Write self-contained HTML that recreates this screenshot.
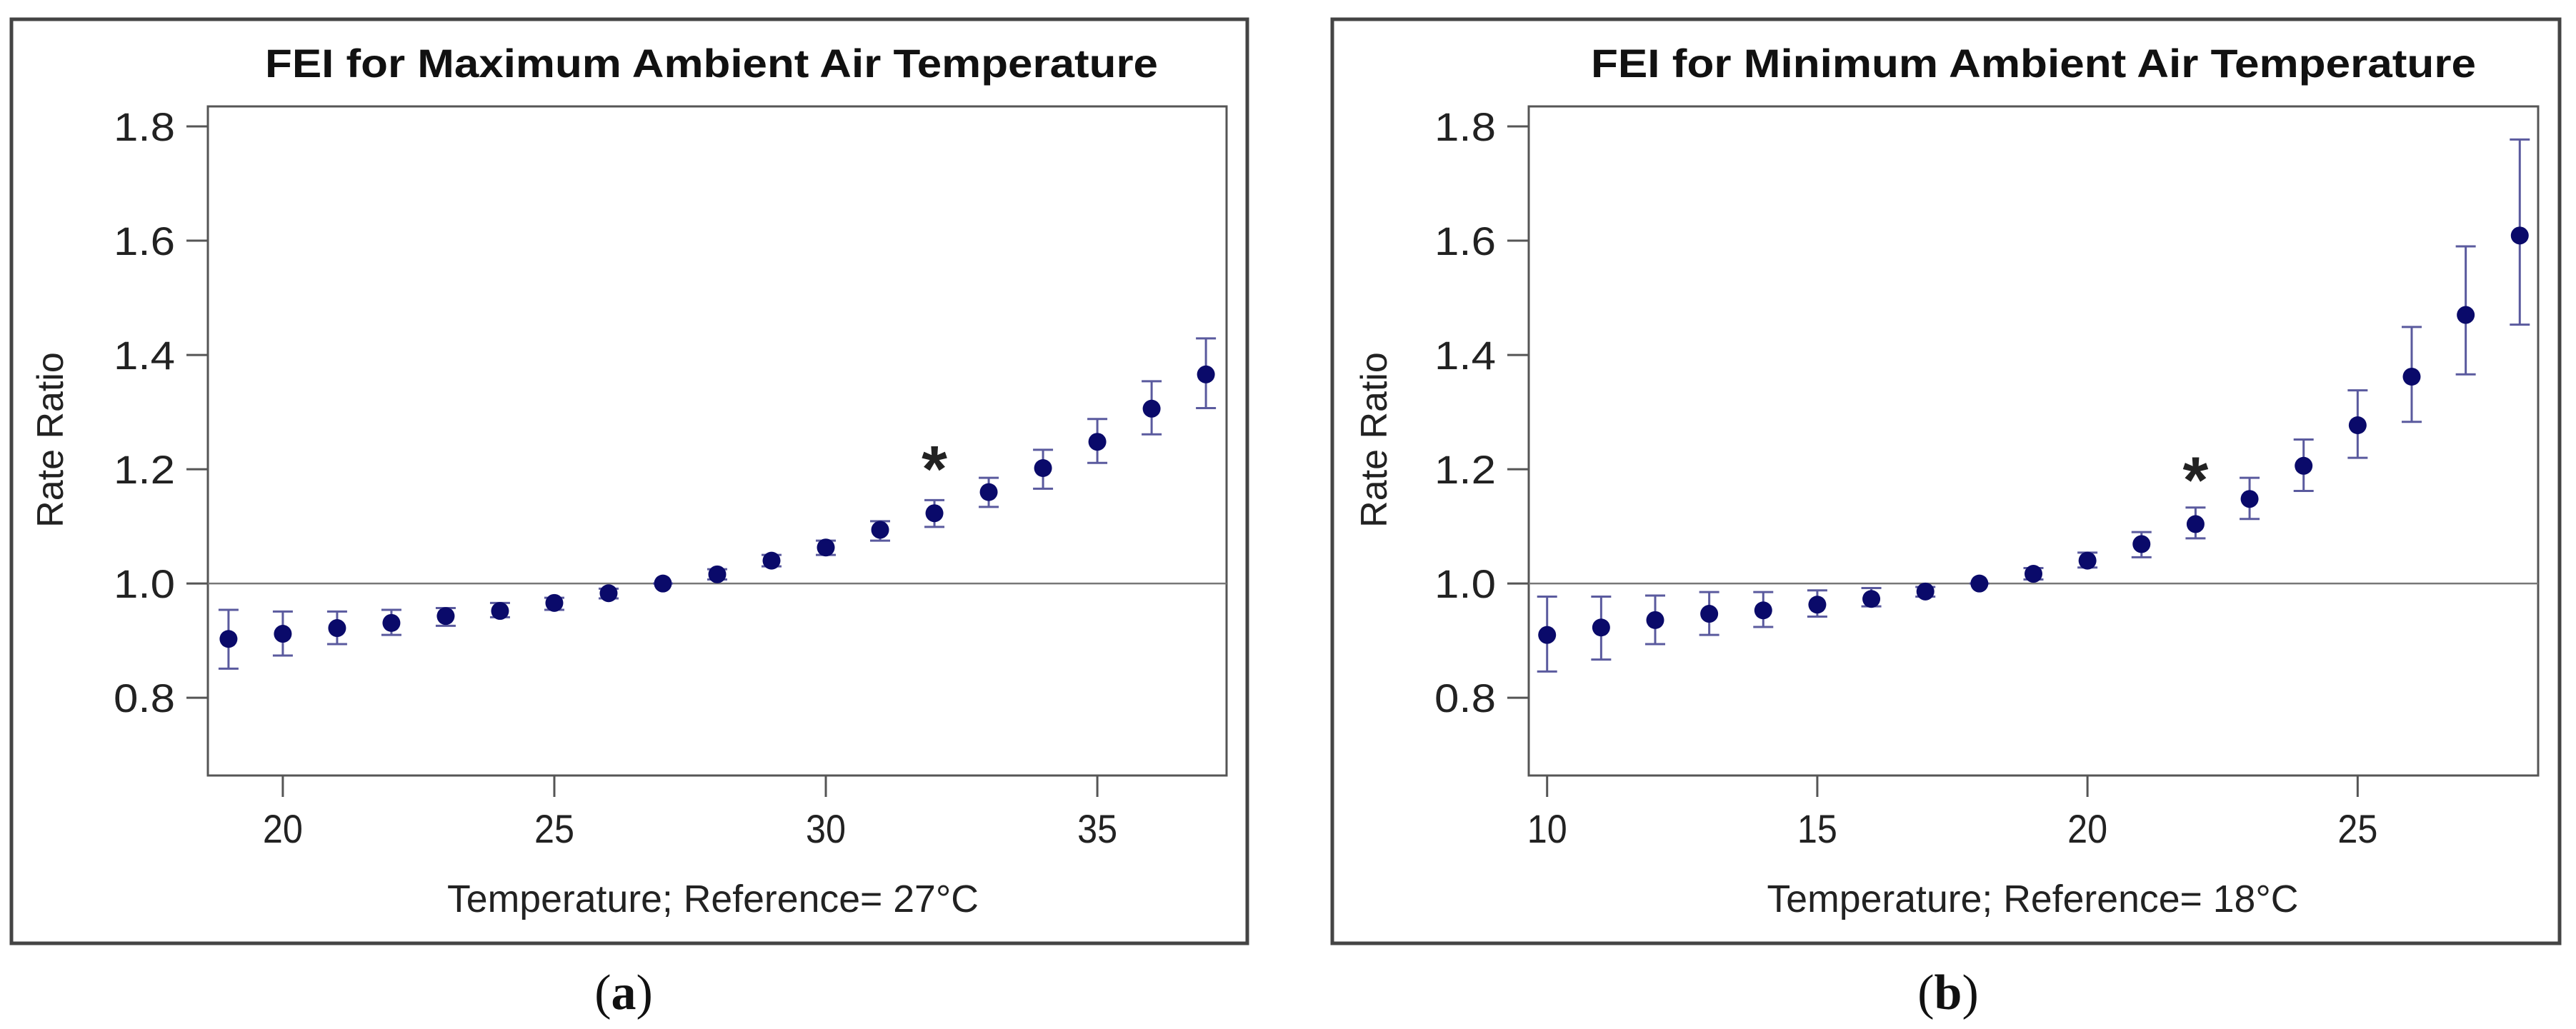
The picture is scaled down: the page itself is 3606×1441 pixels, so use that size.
<!DOCTYPE html>
<html><head><meta charset="utf-8"><style>
html,body{margin:0;padding:0;background:#fff;}
svg{display:block;font-family:"Liberation Sans",Arial,sans-serif;}
</style></head><body>
<svg id="fig" width="3606" height="1441" viewBox="0 0 3606 1441" xmlns="http://www.w3.org/2000/svg"></svg>
<script>
// Panel (a) data: maximum temperature
const tempsA = [19,20,21,22,23,24,25,26,27,28,29,30,31,32,33,34,35,36,37];
const rrA    = [0.903,0.912,0.922,0.931,0.943,0.952,0.966,0.983,1.0,1.016,1.04,1.063,1.094,1.123,1.16,1.202,1.248,1.306,1.366];
const loA    = [0.851,0.874,0.894,0.910,0.926,0.941,0.954,0.974,1.0,1.007,1.03,1.05,1.075,1.099,1.134,1.166,1.211,1.261,1.307];
const hiA    = [0.954,0.951,0.951,0.954,0.957,0.966,0.975,0.991,1.0,1.025,1.05,1.075,1.109,1.146,1.185,1.234,1.288,1.354,1.429];
const xTicksA = [20,25,30,35];
const starA = 32;
// Panel (b) data: minimum temperature
const tempsB = [10,11,12,13,14,15,16,17,18,19,20,21,22,23,24,25,26,27,28];
const rrB    = [0.91,0.923,0.936,0.947,0.953,0.963,0.973,0.986,1.0,1.017,1.04,1.069,1.104,1.148,1.206,1.277,1.362,1.47,1.609];
const loB    = [0.846,0.867,0.894,0.91,0.924,0.942,0.96,0.977,1.0,1.007,1.028,1.046,1.079,1.113,1.162,1.22,1.283,1.366,1.453];
const hiB    = [0.977,0.977,0.979,0.985,0.985,0.988,0.992,0.994,1.0,1.027,1.054,1.09,1.133,1.185,1.252,1.338,1.449,1.59,1.777];
const xTicksB = [10,15,20,25];
const starB = 22;
const yTicks = [0.8,1.0,1.2,1.4,1.6,1.8];
const yTickLabels = ["0.8","1.0","1.2","1.4","1.6","1.8"];

const NS="http://www.w3.org/2000/svg";
const svg=document.getElementById('fig');
function mk(tag,attrs,parent){const e=document.createElementNS(NS,tag);for(const k in attrs)e.setAttribute(k,attrs[k]);(parent||svg).appendChild(e);return e;}

function panel(cfg){
  const g=mk('g',{});
  
  
  const fr=mk('rect',{x:cfg.fx,y:27,width:cfg.fw,height:1294,fill:'none',stroke:'#444',"stroke-width":5},g);
  
  
  const L=cfg.px0,R=cfg.px1,T=149,B=1086;
  const yMin=0.664,yMax=1.835;
  const X=v=>L+(v-cfg.xmin)/(cfg.xmax-cfg.xmin)*(R-L);
  const Y=v=>B-(v-yMin)/(yMax-yMin)*(B-T);
  const t=mk('text',{x:(L+R)/2+cfg.titleDx,y:108,"text-anchor":'middle',"font-size":56,"font-weight":'bold',fill:'#111',textLength:cfg.titleLen,lengthAdjust:'spacingAndGlyphs'},g);
  t.textContent=cfg.title;
  
  
  const pa=mk('rect',{x:L,y:T,width:R-L,height:B-T,fill:'none',stroke:'#555',"stroke-width":3},g);
  
  
  const ref=mk('line',{x1:L,x2:R,y1:Y(1),y2:Y(1),stroke:'#777',"stroke-width":2.5},g);
  
  
  yTicks.forEach((v,i)=>{
    mk('line',{x1:L-30,x2:L,y1:Y(v),y2:Y(v),stroke:'#555',"stroke-width":3},g);
    const tl=mk('text',{x:L-46,y:Y(v)+20,"text-anchor":'end',"font-size":56,fill:'#222',textLength:86,lengthAdjust:'spacingAndGlyphs'},g);
    tl.textContent=yTickLabels[i];
    
    
  });
  cfg.xt.forEach(v=>{
    mk('line',{x1:X(v),x2:X(v),y1:B,y2:B+30,stroke:'#555',"stroke-width":3},g);
    const tl=mk('text',{x:X(v),y:1180,"text-anchor":'middle',"font-size":56,fill:'#222',textLength:56,lengthAdjust:'spacingAndGlyphs'},g);
    tl.textContent=String(v);
    
    
  });
  const xt=mk('text',{x:(L+R)/2+cfg.xtDx,y:1277,"text-anchor":'middle',"font-size":54,fill:'#222',textLength:744,lengthAdjust:'spacingAndGlyphs'},g);
  xt.textContent=cfg.xtitle;
  
  
  const yt=mk('text',{x:0,y:0,"text-anchor":'middle',"font-size":52,fill:'#222',transform:`translate(${cfg.ytx},616) rotate(-90)`},g);
  yt.textContent='Rate Ratio';
  
  
  cfg.xs.forEach((x,i)=>{
    const cx=X(x);
    const eb=mk('path',{d:`M${cx-14},${Y(cfg.hi[i])}H${cx+14}M${cx},${Y(cfg.hi[i])}V${Y(cfg.lo[i])}M${cx-14},${Y(cfg.lo[i])}H${cx+14}`,stroke:'#5a5a9e',"stroke-width":3,fill:'none'},g);
    
    
    const c=mk('circle',{cx:cx,cy:Y(cfg.v[i]),r:12.5,fill:'#0a0a6a'},g);
    
    
  });
  const st=mk('text',{x:X(cfg.star),y:Y(cfg.v[cfg.xs.indexOf(cfg.star)])-30,"text-anchor":'middle',"font-size":92,"font-weight":'bold',fill:'#222'},g);
  st.textContent='*';
  
  
  const cap=mk('text',{x:cfg.capx,y:1413,"text-anchor":'middle',"font-size":70,fill:'#111',"font-family":'"Liberation Serif",serif'},svg);
  const b1=mk('tspan',{},cap);b1.textContent='(';
  const b2=mk('tspan',{"font-weight":'bold'},cap);b2.textContent=cfg.letter;
  const b3=mk('tspan',{},cap);b3.textContent=')';
  
  
}
panel({id:'panel-a',fx:16,fw:1730,px0:291,px1:1717,xmin:18.62,xmax:37.38,xs:tempsA,v:rrA,lo:loA,hi:hiA,xt:xTicksA,star:starA,
  title:'FEI for Maximum Ambient Air Temperature',titleLen:1250,titleDx:-8,xtitle:'Temperature; Reference= 27°C',xtDx:-6,ytx:88,capx:873,letter:'a'});
panel({id:'panel-b',fx:1865,fw:1718,px0:2140,px1:3553,xmin:9.66,xmax:28.34,xs:tempsB,v:rrB,lo:loB,hi:hiB,xt:xTicksB,star:starB,
  title:'FEI for Minimum Ambient Air Temperature',titleLen:1239,titleDx:0,xtitle:'Temperature; Reference= 18°C',xtDx:-1,ytx:1941,capx:2727,letter:'b'});
</script>
</body></html>
